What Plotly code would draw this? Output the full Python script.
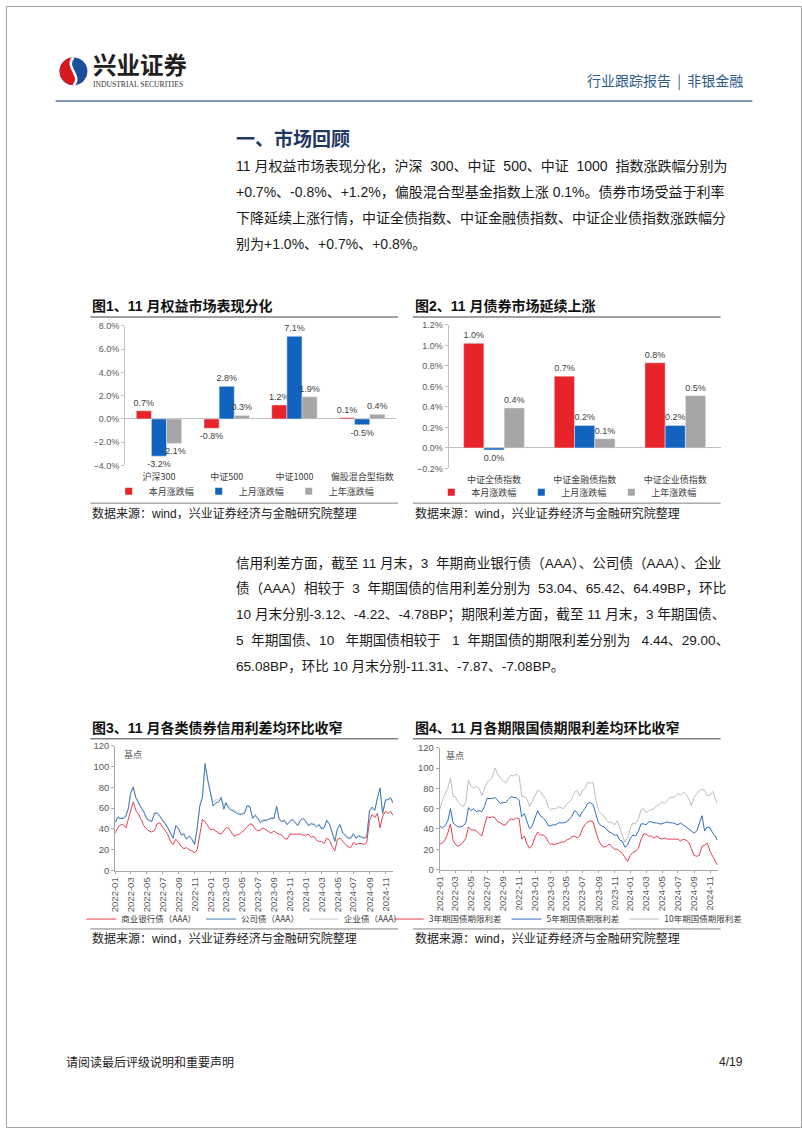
import plotly.graph_objects as go

W, H = 802, 1133


def X(px):
    return px / W


def Y(py):
    return 1 - py / H


# ---------------- data ----------------
eq_categories = ["沪深300", "中证500", "中证1000", "偏股混合型指数"]
eq_this_month = [0.7, -0.8, 1.2, 0.1]
eq_last_month = [-3.2, 2.8, 7.1, -0.5]
eq_last_year = [-2.1, 0.3, 1.9, 0.4]

bond_categories = ["中证全债指数", "中证金融债指数", "中证企业债指数"]
bond_this_month = [1.02, 0.70, 0.83]
bond_last_month = [-0.02, 0.22, 0.22]
bond_last_year = [0.39, 0.09, 0.51]

bar_series_names = ["本月涨跌幅", "上月涨跌幅", "上年涨跌幅"]

months = [(2022 + m // 12, m % 12 + 1) for m in range(35)]
dates = [f"{y}-{mo:02d}-{d:02d}" for (y, mo) in months for d in (1, 11, 21)] + ["2024-11-29"]
tick_dates = [f"{y}-{mo:02d}-01" for (y, mo) in months[::2]]

credit_bank = [36, 41, 44, 44, 41, 50, 58, 66, 58, 54, 49, 43, 40, 38, 37, 39, 45, 46,
               42, 39, 35, 28, 25, 30, 27, 23, 21, 22, 20, 19, 17, 20, 36, 49, 47, 43,
               39, 40, 38, 36, 35, 38, 41, 41, 37, 33, 34, 35, 37, 39, 42, 45, 44, 40,
               38, 39, 41, 39, 37, 36, 38, 36, 35, 34, 31, 30, 35, 35, 35, 35, 35, 34,
               34, 35, 32, 33, 29, 28, 28, 26, 31, 29, 23, 19, 30, 31, 28, 25, 23, 22,
               27, 25, 26, 26, 25, 27, 48, 54, 51, 55, 41, 52, 57, 55, 57, 53.04]
credit_corp = [46, 51, 50, 50, 52, 60, 74, 80, 70, 64, 60, 56, 50, 48, 47, 55, 55, 52,
               49, 45, 41, 36, 31, 43, 40, 34, 35, 30, 33, 30, 25, 40, 62, 70, 103, 88,
               73, 62, 65, 66, 70, 59, 65, 60, 58, 57, 55, 54, 54, 55, 62, 61, 50, 53,
               50, 46, 48, 48, 49, 50, 50, 62, 49, 47, 48, 44, 47, 49, 46, 43, 48, 50,
               47, 43, 45, 44, 42, 44, 40, 41, 48, 44, 36, 28, 40, 44, 36, 33, 31, 31,
               35, 31, 33, 32, 31, 32, 58, 61, 58, 70, 79, 55, 68, 68, 70, 65.42]
credit_ent = [47, 52, 51, 51, 54, 61, 75, 81, 71, 65, 61, 57, 51, 49, 48, 56, 56, 53,
              50, 46, 42, 37, 32, 44, 41, 35, 36, 31, 34, 31, 26, 42, 63, 72, 101, 86,
              75, 66, 68, 68, 71, 62, 66, 62, 60, 58, 56, 55, 55, 56, 63, 62, 51, 54,
              51, 47, 49, 49, 50, 51, 51, 61, 50, 48, 49, 45, 48, 50, 47, 44, 49, 51,
              48, 44, 46, 45, 43, 45, 41, 42, 49, 45, 37, 29, 41, 45, 37, 34, 32, 32,
              36, 32, 34, 33, 32, 33, 57, 60, 57, 69, 80, 54, 67, 69, 69, 64.49]
credit_names = ["商业银行债（AAA）", "公司债（AAA）", "企业债（AAA）"]

term_3y = [25, 26, 29, 36, 45, 29, 25, 23, 24, 27, 31, 42, 39, 39, 38, 35, 33, 43,
           52, 51, 52, 51, 47, 46, 44, 44, 48, 50, 49, 51, 50, 30, 33, 25, 21, 24,
           32, 37, 34, 34, 32, 27, 25, 25, 25, 26, 27, 27, 29, 30, 32, 33, 31, 33,
           40, 44, 47, 48, 47, 38, 29, 24, 22, 23, 25, 23, 20, 20, 18, 16, 12, 8,
           14, 17, 18, 21, 30, 35, 35, 33, 33, 31, 33, 31, 30, 31, 30, 30, 30, 30,
           30, 28, 30, 29, 27, 21, 14, 13, 14, 23, 24, 26, 18, 13, 9, 4.44]
term_5y = [43, 41, 43, 48, 60, 46, 44, 42, 42, 43, 46, 61, 58, 60, 57, 58, 57, 62,
           70, 70, 70, 71, 68, 65, 66, 66, 69, 72, 71, 71, 68, 52, 55, 47, 40, 43,
           51, 58, 53, 51, 48, 43, 43, 44, 44, 46, 46, 46, 47, 49, 52, 58, 56, 52,
           57, 60, 65, 66, 64, 55, 46, 43, 42, 40, 37, 36, 34, 34, 29, 28, 22, 24,
           31, 34, 33, 38, 45, 45, 44, 47, 47, 46, 46, 45, 45, 46, 47, 46, 46, 45,
           44, 46, 44, 42, 40, 38, 36, 38, 46, 53, 38, 42, 41, 36, 33, 29.00]
term_10y = [59, 68, 74, 80, 90, 72, 72, 67, 64, 62, 67, 88, 82, 80, 82, 80, 73, 79,
            86, 88, 91, 100, 94, 90, 87, 85, 90, 93, 92, 94, 92, 72, 72, 69, 62, 67,
            74, 78, 77, 73, 69, 61, 59, 60, 60, 62, 61, 60, 64, 67, 69, 76, 78, 72,
            78, 80, 86, 85, 86, 70, 58, 55, 53, 49, 46, 47, 44, 48, 41, 35, 27, 31,
            41, 46, 45, 50, 59, 60, 56, 58, 59, 60, 63, 64, 67, 65, 68, 71, 71, 72,
            75, 73, 76, 74, 70, 63, 71, 74, 78, 79, 78, 73, 73, 77, 70, 65.08]
term_names = ["3年期国债期限利差", "5年期国债期限利差", "10年期国债期限利差"]

# ---------------- styles ----------------
RED, BLUE, GRAY = "#E8232A", "#1263C0", "#A6A6A6"
LAT = "Liberation Sans, Noto Sans CJK SC"
CJK = "Noto Sans CJK SC"
AX = "#BFBFBF"
TXT = "#404040"
NB = "\u00a0"


def pct_label(v):
    return f"{abs(v):.1f}%" if abs(v) < 0.05 else f"{v:.1f}%"


fig = go.Figure()

# chart 1 bars
for name, vals, col in zip(bar_series_names, [eq_this_month, eq_last_month, eq_last_year], [RED, BLUE, GRAY]):
    fig.add_trace(go.Bar(x=eq_categories, y=vals, name=name, marker_color=col, xaxis="x", yaxis="y",
                         text=[pct_label(v) for v in vals], textposition="outside", constraintext="none",
                         cliponaxis=False, textfont=dict(size=9, color=TXT, family=LAT), showlegend=False))
    fig.add_trace(go.Scatter(x=[None], y=[None], mode="markers", name=name, xaxis="x", yaxis="y",
                             marker=dict(symbol="square", size=7, color=col), legend="legend"))

# chart 2 bars
for name, vals, col in zip(bar_series_names, [bond_this_month, bond_last_month, bond_last_year], [RED, BLUE, GRAY]):
    fig.add_trace(go.Bar(x=bond_categories, y=vals, name=name, marker_color=col, xaxis="x2", yaxis="y2",
                         text=[pct_label(v) for v in vals], textposition="outside", constraintext="none",
                         cliponaxis=False, textfont=dict(size=9, color=TXT, family=LAT), showlegend=False))
    fig.add_trace(go.Scatter(x=[None], y=[None], mode="markers", name=name, xaxis="x2", yaxis="y2",
                             marker=dict(symbol="square", size=7, color=col), legend="legend2"))

# chart 3 lines (drawn light first, legend reversed)
for name, vals, col in reversed(list(zip(credit_names, [credit_bank, credit_corp, credit_ent],
                                         ["#E8404F", "#3E7CB8", "#C8CDD5"]))):
    fig.add_trace(go.Scatter(x=dates, y=vals, name=name, mode="lines", line=dict(color=col, width=1),
                             xaxis="x3", yaxis="y3", legend="legend3"))

# chart 4 lines
for name, vals, col in reversed(list(zip(term_names, [term_3y, term_5y, term_10y],
                                         ["#E83E4C", "#2E6EBE", "#BDBDBD"]))):
    fig.add_trace(go.Scatter(x=dates, y=vals, name=name, mode="lines", line=dict(color=col, width=1),
                             xaxis="x4", yaxis="y4", legend="legend4"))

bar_y_common = dict(showline=True, linecolor=AX, ticks="outside", ticklen=3, tickcolor=AX, showgrid=False,
                    zeroline=True, zerolinecolor=AX, zerolinewidth=1, ticksuffix="%", tickformat=".1f",
                    tickfont=dict(size=9, color="#595959", family=LAT), fixedrange=True)
bar_x_common = dict(type="category", showline=False, ticks="", showgrid=False, zeroline=False,
                    ticklabelstandoff=5, tickfont=dict(size=9, color=TXT, family=CJK), fixedrange=True)
line_x_common = dict(type="date", range=["2022-01-01", "2024-11-30"], tickvals=tick_dates, tickformat="%Y-%m",
                     tickangle=-90, showline=True, linecolor="#A6A6A6", ticks="outside", ticklen=2,
                     tickcolor="#A6A6A6", showgrid=False, zeroline=False,
                     tickfont=dict(size=9.5, color="#595959", family=LAT))
line_y_common = dict(range=[0, 120], dtick=20, showline=True, linecolor="#A6A6A6", ticks="outside", ticklen=3,
                     tickcolor="#A6A6A6", showgrid=False, zeroline=False,
                     tickfont=dict(size=9.5, color="#595959", family=LAT))


def legend_cfg(cx, cy, size=9, rev=False):
    d = dict(x=X(cx), y=Y(cy), xanchor="center", yanchor="middle", orientation="h",
             font=dict(size=size, color=TXT, family=CJK), bgcolor="rgba(0,0,0,0)", itemwidth=30,
             tracegroupgap=0, borderwidth=0)
    if rev:
        d["traceorder"] = "reversed"
    return d


fig.update_layout(
    width=W, height=H, margin=dict(l=0, r=0, t=0, b=0), paper_bgcolor="white", plot_bgcolor="white",
    barmode="group", bargap=0.33, bargroupgap=0, showlegend=True,
    font=dict(family=LAT, size=9, color=TXT),
    xaxis=dict(domain=[X(120), X(393)], anchor="y", **bar_x_common),
    yaxis=dict(domain=[Y(464), Y(323)], anchor="x", range=[-4, 8], dtick=2, **bar_y_common),
    xaxis2=dict(domain=[X(446), X(720)], anchor="y2", **bar_x_common),
    yaxis2=dict(domain=[Y(467), Y(322)], anchor="x2", range=[-0.2, 1.2], dtick=0.2, **bar_y_common),
    xaxis3=dict(domain=[X(110), X(390)], anchor="y3", **line_x_common),
    yaxis3=dict(domain=[Y(873), Y(747)], anchor="x3", **line_y_common),
    xaxis4=dict(domain=[X(437), X(717)], anchor="y4", **line_x_common),
    yaxis4=dict(domain=[Y(872), Y(749)], anchor="x4", **line_y_common),
    legend=legend_cfg(240, 490),
    legend2=legend_cfg(565, 491),
    legend3=legend_cfg(240, 922, size=8.5, rev=True),
    legend4=legend_cfg(566, 922, size=8.5, rev=True),
)

ann = []


def txt(px, py, s, size, color="#1A1A1A", family=LAT, xanchor="left"):
    ann.append(dict(x=X(px), y=Y(py), xref="paper", yref="paper", text=s, showarrow=False,
                    xanchor=xanchor, yanchor="middle", font=dict(size=size, color=color, family=family)))


# header
txt(86, 59, "<b>兴业证券</b>", 23.5, "#231F20", CJK)
txt(86, 79, "INDUSTRIAL SECURITIES", 7.6, "#333333", "Liberation Serif")
txt(745, 75, f"行业跟踪报告{NB}{NB}|{NB}{NB}非银金融", 14, "#2E5C8A", CJK, "right")

# section title + paragraphs
txt(230, 133, "<b>一、市场回顾</b>", 19, "#1F3864", CJK)
para1 = [
    f"11 月权益市场表现分化，沪深{NB}{NB}300、中证{NB}{NB}500、中证{NB}{NB}1000{NB}{NB}指数涨跌幅分别为",
    "+0.7%、-0.8%、+1.2%，偏股混合型基金指数上涨 0.1%。债券市场受益于利率",
    "下降延续上涨行情，中证全债指数、中证金融债指数、中证企业债指数涨跌幅分",
    "别为+1.0%、+0.7%、+0.8%。",
]
for i, s in enumerate(para1):
    txt(230, 162 + 26 * i, s, 14)
para2 = [
    f"信用利差方面，截至 11 月末，3{NB}{NB}年期商业银行债（AAA）、公司债（AAA）、企业",
    f"债（AAA）相较于{NB}{NB}3{NB}{NB}年期国债的信用利差分别为{NB}{NB}53.04、65.42、64.49BP，环比",
    "10 月末分别-3.12、-4.22、-4.78BP；期限利差方面，截至 11 月末，3 年期国债、",
    f"5{NB}{NB}年期国债、10{NB}{NB}{NB}年期国债相较于{NB}{NB}{NB}1{NB}{NB}年期国债的期限利差分别为{NB}{NB}{NB}4.44、29.00、",
    "65.08BP，环比 10 月末分别-11.31、-7.87、-7.08BP。",
]
for i, s in enumerate(para2):
    txt(230, 562 + 26.3 * i, s, 13.6)

# chart titles and sources
titles = [(85, 303, "图1、11 月权益市场表现分化"), (410, 303, "图2、11 月债券市场延续上涨"),
          (85, 729, "图3、11 月各类债券信用利差均环比收窄"), (410, 729, "图4、11 月各期限国债期限利差均环比收窄")]
for px, py, s in titles:
    txt(px, py, f"<b>{s}</b>", 14, "#111111")
source = "数据来源：wind，兴业证券经济与金融研究院整理"
for px, py in [(85, 512), (410, 512), (85, 942), (410, 942)]:
    txt(px, py, source, 12, "#222222")
txt(117, 756, "基点", 9, "#595959", CJK)
txt(441, 757, "基点", 9, "#595959", CJK)

# footer
txt(58, 1066, "请阅读最后评级说明和重要声明", 12, "#222222", CJK)
txt(745, 1066, "4/19", 12, "#222222", LAT, "right")

fig.update_layout(annotations=ann)

shapes = []


def hline(x0, x1, py, color, width):
    shapes.append(dict(type="line", xref="paper", yref="paper", x0=X(x0), x1=X(x1), y0=Y(py), y1=Y(py),
                       line=dict(color=color, width=width)))


shapes.append(dict(type="rect", xref="paper", yref="paper", x0=X(0.5), x1=X(801.5), y0=Y(1132.5), y1=Y(0.5),
                   line=dict(color="#A0A0A0", width=1)))
hline(50, 752, 96, "#8497B0", 2)
for x0, x1 in [(85, 395), (410, 720)]:
    hline(x0, x1, 314, "#808080", 1.5)
    hline(x0, x1, 502, "#808080", 1)
    hline(x0, x1, 740, "#808080", 1.5)
    hline(x0, x1, 932, "#808080", 1)

# logo
cx, cy, r = 68, 66, 14
k = 0.5523
shapes.append(dict(type="circle", xref="paper", yref="paper", x0=X(cx - r), x1=X(cx + r), y0=Y(cy + r),
                   y1=Y(cy - r), fillcolor="#1B4F9C", line=dict(width=0)))


def P(px, py):
    return f"{X(px):.5f},{Y(py):.5f}"


red_path = ("M" + P(cx, cy - r) +
            " C" + P(cx - k * r, cy - r) + " " + P(cx - r, cy - k * r) + " " + P(cx - r, cy) +
            " C" + P(cx - r, cy + k * r) + " " + P(cx - k * r, cy + r) + " " + P(cx, cy + r) +
            " C" + P(cx + 0.7 * r, cy + 0.35 * r) + " " + P(cx - 0.7 * r, cy - 0.35 * r) + " " + P(cx, cy - r) + " Z")
shapes.append(dict(type="path", xref="paper", yref="paper", path=red_path, fillcolor="#D7191F",
                   line=dict(width=0)))
s_path = ("M" + P(cx, cy + r) + " C" + P(cx + 0.7 * r, cy + 0.35 * r) + " " +
          P(cx - 0.7 * r, cy - 0.35 * r) + " " + P(cx, cy - r))
shapes.append(dict(type="path", xref="paper", yref="paper", path=s_path, line=dict(color="white", width=2.5)))

fig.update_layout(shapes=shapes)

fig.write_html("out.html")
